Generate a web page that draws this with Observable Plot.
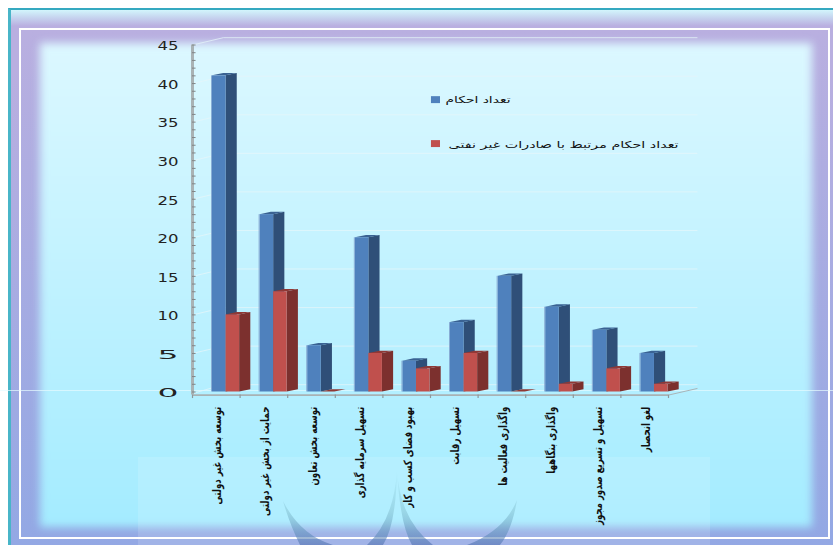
<!DOCTYPE html>
<html lang="fa">
<head>
<meta charset="utf-8">
<script src="https://cdn.jsdelivr.net/npm/d3@7"></script>
<script src="https://cdn.jsdelivr.net/npm/@observablehq/plot@0.6"></script>
<style>
html,body{margin:0;padding:0;background:#fff;width:833px;height:545px;overflow:hidden}
#page{position:relative;width:833px;height:545px;overflow:hidden}
#ring{position:absolute;left:8px;top:8px;width:825px;height:537px;box-sizing:border-box;
 border-left:3px solid #48b5c8;border-top:2px solid #35a9c0;
 background:linear-gradient(#d2f5fc 0,#b9afe0 16px,#b9afe0 60px,#93a8e4 100%)}
#frame{position:absolute;left:19px;top:28px;width:811px;height:511px;box-sizing:border-box;border:2px solid #fff;overflow:hidden;
 background:linear-gradient(#b9afe0,#93a8e4)}
#fill{position:absolute;left:19px;top:13px;right:16px;bottom:10px;filter:blur(4px);
 background:linear-gradient(#dcf8ff,#a4ecff)}
#wm{position:absolute;left:0;top:0}
#chart{position:absolute;left:0;top:0}
</style>
</head>
<body>
<div id="page">
 <div id="ring"></div>
 <div id="frame"><div id="fill"></div></div>
 <svg id="wm" width="833" height="545">
  <defs><linearGradient id="wg" gradientUnits="userSpaceOnUse" x1="0" x2="0" y1="470" y2="545">
   <stop offset="0" stop-color="#6fb0bd" stop-opacity="0.03"/>
   <stop offset="0.55" stop-color="#6aa5b5" stop-opacity="0.32"/>
   <stop offset="0.85" stop-color="#5c8cb8" stop-opacity="0.55"/>
   <stop offset="1" stop-color="#5070b0" stop-opacity="0.6"/>
  </linearGradient></defs>
  <rect x="138" y="457" width="572" height="88" fill="#fff" opacity="0.13"/>
  <g fill="url(#wg)">
   <path d="M283 501 Q300 535 333 545 L300 545 Q290 525 283 501Z"/>
   <path d="M397 470 Q394 520 367 545 L383 545 Q396 525 397 470Z"/>
   <path d="M397 470 Q400 520 433 545 L412 545 Q400 525 397 470Z"/>
   <path d="M517 500 Q505 530 467 545 L500 545 Q512 530 517 500Z"/>
  </g>
  <line x1="0" x2="833" y1="390.5" y2="390.5" stroke="#e6fbff" stroke-width="1" opacity="0.7"/>
 </svg>
 <div id="chart"></div>
</div>
<script>
const categories = [
 "توسعه بخش غیر دولتی","حمایت از بخش غیر دولتی","توسعه بخش تعاون","تسهیل سرمایه گذاری",
 "بهبود فضای کسب و کار","تسهیل رقابت","واگذاری فعالیت ها","واگذاری بنگاهها",
 "تسهیل و تسریع صدور مجوز","لغو انحصار"];
const rulings = [41,23,6,20,4,9,15,11,8,5];
const exportRulings = [10,13,0,5,3,5,0,1,3,1];
const seriesNames = ["تعداد احکام","تعداد احکام مرتبط با صادرات غیر نفتی"];
const yTicks = [0,5,10,15,20,25,30,35,40,45];
const minorTicks = d3.range(0,46);
const catTicks = d3.range(0,11);

const W = 0.285, D = 0.235, DY = 0.3;   // bar front width, side depth, rise (scale units)
function bars(values, off){
  const front=[], side=[], top=[];
  values.forEach((v,i)=>{
    const a=i+off, b=a+W;
    front.push({x1:a,x2:b,y1:0,y2:v});
    side.push({id:i,x:b,y1:0,y2:v},{id:i,x:b+D,y1:DY,y2:v+DY});
    top.push({id:i,x:a,y1:v,y2:v},{id:i,x:a+D,y1:v,y2:v+DY},{id:i,x:b,y1:v,y2:v+DY},{id:i,x:b+D,y1:v+DY,y2:v+DY});
  });
  return {front,side,top};
}
const blue = bars(rulings,0.42), red = bars(exportRulings,0.705);
const grid = yTicks.slice(1).flatMap(v=>[{v,x:0,y:v},{v,x:0.65,y:v+0.95},{v,x:10.6,y:v+0.95}]);

function series(b,fc,sc,tc){
  return [
   Plot.area(b.side,{x1:"x",y1:"y1",y2:"y2",z:"id",fill:sc}),
   Plot.area(b.top,{x1:"x",y1:"y1",y2:"y2",z:"id",fill:tc}),
   Plot.rect(b.front,{x1:"x1",x2:"x2",y1:"y1",y2:"y2",fill:fc,inset:0})
  ];
}

const plot = Plot.plot({
  width:833,height:545,margin:0,
  style:{background:"transparent",overflow:"visible"},
  x:{type:"linear",domain:[0,10],range:[192,668],axis:null},
  y:{type:"linear",domain:[0,45],range:[391.5,44.5],axis:null},
  marks:[
   Plot.line(grid,{x:"x",y:"y",z:"v",stroke:"#e6f5fa",strokeWidth:1,strokeOpacity:0.75}),
   Plot.line([{x:10,y:-0.4},{x:10.6,y:0.45}],{x:"x",y:"y",stroke:"#a9b4b8",strokeWidth:1}),
   Plot.line([{x:0,y:-0.2},{x:0.65,y:0.95},{x:10.6,y:0.95}],{x:"x",y:"y",stroke:"#e4f5fb",strokeWidth:1,strokeOpacity:0.75}),
   ...series(blue,"#4f81bd","#2f4f78","#3a6293"),
   Plot.rect(rulings.map((v,i)=>({i,v})),{x1:d=>d.i+0.40,x2:d=>d.i+0.42,y1:0,y2:"v",fill:"#86a9d3"}),
   ...series(red,"#c0504d","#7c302e","#8f3835"),
   // axes
   Plot.ruleX([0],{y1:-0.4,y2:45,stroke:"#a9b2b4",strokeWidth:3}),
   Plot.ruleY(minorTicks,{x1:0,x2:0.075,stroke:"#7f8587",strokeWidth:1}),
   Plot.ruleY([-0.4],{x1:0,x2:10,stroke:"#a9b2b4",strokeWidth:1.6}),
   Plot.ruleX(catTicks,{y1:-0.4,y2:-0.85,stroke:"#8f989b",strokeWidth:1.2}),
   Plot.text(yTicks,{x:-0.295,y:d=>d-0.2,text:d=>String(d),textAnchor:"end",fontSize:12,
     fontFamily:"DejaVu Sans",fill:"#222",className:"ytick"}),
   // category labels
   Plot.text(categories,{x:(d,i)=>i+0.53,y:-1.9,text:d=>d,rotate:-90,textAnchor:"end",lineAnchor:"middle",
     fontSize:11.5,fontWeight:"bold",fontFamily:"DejaVu Sans",fill:"#111",className:"cat"}),
   // legend
   Plot.rect([0],{x1:5.02,x2:5.21,y1:37.4,y2:38.3,fill:"#4f81bd"}),
   Plot.rect([0],{x1:5.02,x2:5.21,y1:31.7,y2:32.6,fill:"#c0504d"}),
   Plot.text([seriesNames[0]],{x:5.315,y:37.9,text:d=>d,textAnchor:"start",fontSize:9.5,fontFamily:"DejaVu Sans",fill:"#111",className:"lg0"}),
   Plot.text([seriesNames[1]],{x:5.38,y:32.1,text:d=>d,textAnchor:"start",fontSize:9.5,fontFamily:"DejaVu Sans",fill:"#111",className:"lg1"})
  ]
});
document.getElementById("chart").append(plot);
const stretch=(sel,len)=>d3.select(plot).selectAll(sel+" text").attr("lengthAdjust","spacingAndGlyphs").attr("textLength",len);
stretch(".lg0",65); stretch(".lg1",230); stretch(".ytick",21);
d3.select(plot).selectAll(".cat text").each(function(){
  d3.select(this).attr("lengthAdjust","spacingAndGlyphs").attr("textLength",this.getComputedTextLength()*0.75);
});
</script>
</body>
</html>
